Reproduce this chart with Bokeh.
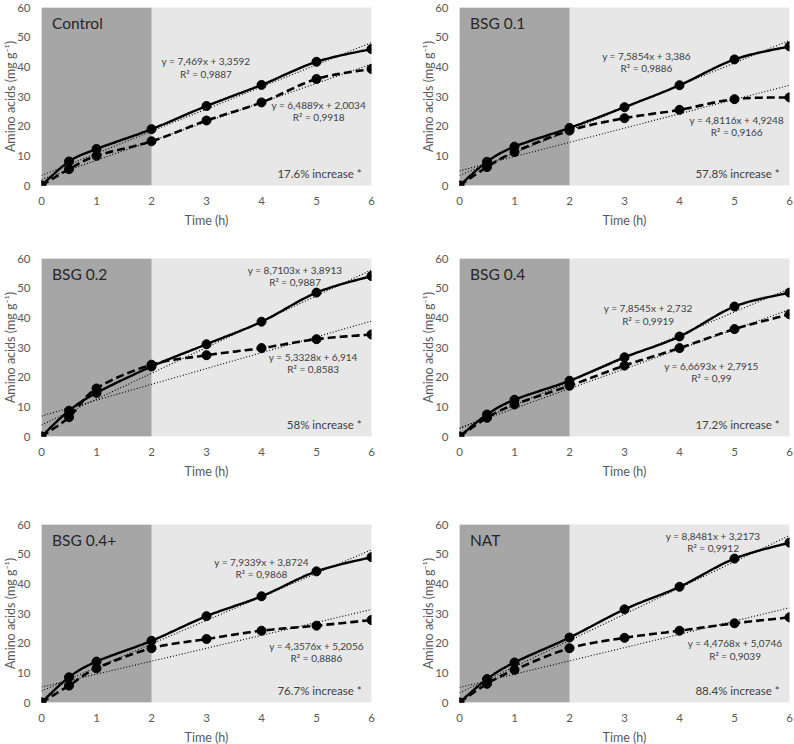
import numpy as np
from bokeh.plotting import figure
from bokeh.layouts import column, row
from bokeh.models import Label, Range1d, FixedTicker, BoxAnnotation
from bokeh.embed import file_html
from bokeh.resources import INLINE

# ---------------- data ----------------
time_h = [0, 0.5, 1, 2, 3, 4, 5, 6]
panel_names = ["Control", "BSG 0.1", "BSG 0.2", "BSG 0.4", "BSG 0.4+", "NAT"]

solid_series = [
    [0, 8.1, 12.3, 19.0, 26.8, 33.9, 41.7, 46.0],
    [0, 8.0, 13.1, 19.4, 26.4, 33.8, 42.5, 46.9],
    [0, 8.7, 14.7, 23.6, 31.1, 38.7, 48.5, 54.1],
    [0, 7.4, 12.4, 18.8, 26.7, 33.7, 43.8, 48.5],
    [0, 8.5, 13.8, 20.8, 29.1, 35.8, 44.2, 49.0],
    [0, 7.9, 13.5, 21.9, 31.4, 39.0, 48.5, 53.9],
]
dashed_series = [
    [0, 5.5, 10.0, 14.9, 21.9, 28.0, 35.9, 39.3],
    [0, 6.2, 11.3, 18.5, 22.7, 25.5, 29.1, 29.7],
    [0, 6.5, 16.2, 24.2, 27.4, 29.8, 32.8, 34.4],
    [0, 6.3, 10.8, 17.1, 23.9, 29.8, 36.2, 41.2],
    [0, 5.7, 11.5, 18.3, 21.4, 24.2, 25.9, 27.8],
    [0, 6.3, 11.0, 18.3, 21.8, 24.2, 26.7, 28.7],
]
solid_eq = ["y = 7,469x + 3,3592", "y = 7,5854x + 3,386", "y = 8,7103x + 3,8913",
            "y = 7,8545x + 2,732", "y = 7,9339x + 3,8724", "y = 8,8481x + 3,2173"]
solid_r2 = ["R² = 0,9887", "R² = 0,9886", "R² = 0,9887", "R² = 0,9919", "R² = 0,9868", "R² = 0,9912"]
solid_slope = [7.469, 7.5854, 8.7103, 7.8545, 7.9339, 8.8481]
solid_intercept = [3.3592, 3.386, 3.8913, 2.732, 3.8724, 3.2173]
dashed_eq = ["y = 6,4889x + 2,0034", "y = 4,8116x + 4,9248", "y = 5,3328x + 6,914",
             "y = 6,6693x + 2,7915", "y = 4,3576x + 5,2056", "y = 4,4768x + 5,0746"]
dashed_r2 = ["R² = 0,9918", "R² = 0,9166", "R² = 0,8583", "R² = 0,99", "R² = 0,8886", "R² = 0,9039"]
dashed_slope = [6.4889, 4.8116, 5.3328, 6.6693, 4.3576, 4.4768]
dashed_intercept = [2.0034, 4.9248, 6.914, 2.7915, 5.2056, 5.0746]
increase_labels = ["17.6% increase *", "57.8% increase *", "58% increase *",
                   "17.2% increase *", "76.7% increase *", "88.4% increase *"]
first_phase = [0, 2]
x_ticks = [0, 1, 2, 3, 4, 5, 6]
y_ticks = [0, 10, 20, 30, 40, 50, 60]

# ---------------- layout / style ----------------
FONT = "Lato"
DARK = "#a6a6a6"
LIGHT = "#e7e7e7"

# label positions (data coords) per panel
eq1_pos = [(2.99, 41.8), (3.40, 43.7), (4.61, 56.2), (3.43, 43.2), (4.00, 47.5), (4.61, 56.2)]
eq2_pos = [(5.04, 27.3), (5.04, 22.1), (4.94, 26.8), (4.58, 23.7), (5.00, 19.2), (5.01, 19.9)]

row_borders = [(7, 55), (18, 54), (34, 42)]


def smooth(xs, ys, n=24):
    P = np.column_stack([xs, ys]).astype(float)
    m = len(P)
    out = []
    for i in range(m - 1):
        p0 = P[i - 1] if i > 0 else P[i]
        p1 = P[i]
        p2 = P[i + 1]
        p3 = P[i + 2] if i + 2 < m else P[i + 1]
        c1 = p1 + (p2 - p0) / 6.0
        c2 = p2 - (p3 - p1) / 6.0
        t = np.linspace(0, 1, n, endpoint=(i == m - 2))[:, None]
        seg = ((1 - t) ** 3) * p1 + 3 * ((1 - t) ** 2) * t * c1 + 3 * (1 - t) * t * t * c2 + (t ** 3) * p2
        out.append(seg)
    out = np.vstack(out)
    return out[:, 0], out[:, 1]


def make_panel(k):
    r = k // 2
    c = k % 2
    top, bottom = row_borders[r]
    if c == 0:
        bl, br = 41, 44
    else:
        bl, br = 44, 5
    p = figure(frame_width=330, frame_height=178,
               x_range=Range1d(0, 6), y_range=Range1d(0, 60),
               output_backend="svg", toolbar_location=None,
               min_border_left=bl, min_border_right=br,
               min_border_top=top, min_border_bottom=bottom)
    p.background_fill_color = LIGHT
    p.border_fill_color = "white"
    p.outline_line_color = None
    p.grid.visible = False

    p.add_layout(BoxAnnotation(left=first_phase[0], right=first_phase[1],
                               fill_color=DARK, fill_alpha=1.0, line_color=None,
                               level="underlay"))

    for ax in (p.xaxis[0], p.yaxis[0]):
        ax.axis_line_color = None
        ax.major_tick_line_color = None
        ax.minor_tick_line_color = None
        ax.major_tick_out = 0
        ax.major_tick_in = 0
        ax.minor_tick_out = 0
        ax.minor_tick_in = 0
        ax.major_label_text_font = FONT
        ax.major_label_text_font_size = "11.5px"
        ax.major_label_text_color = "#595959"
        ax.axis_label_text_font = FONT
        ax.axis_label_text_font_size = "12.5px"
        ax.axis_label_text_font_style = "normal"
        ax.axis_label_text_color = "#595959"
    p.xaxis.ticker = FixedTicker(ticks=x_ticks)
    p.yaxis.ticker = FixedTicker(ticks=y_ticks)
    p.xaxis.axis_label = "Time (h)"
    p.yaxis.axis_label = "Amino acids (mg g⁻¹)"
    p.xaxis.major_label_standoff = 11
    p.xaxis.axis_label_standoff = 5
    p.yaxis.major_label_standoff = 11
    p.yaxis.axis_label_standoff = -4

    # trend lines
    xt = np.array([0.0, 6.0])
    p.line(xt, solid_slope[k] * xt + solid_intercept[k], line_color="black",
           line_width=1.1, line_dash="1 2")
    p.line(xt, dashed_slope[k] * xt + dashed_intercept[k], line_color="black",
           line_width=1.1, line_dash="1 2")

    # data series
    sx, sy = smooth(time_h, solid_series[k])
    p.line(sx, sy, line_color="black", line_width=2.4)
    dx, dy = smooth(time_h, dashed_series[k])
    p.line(dx, dy, line_color="black", line_width=2.6, line_dash="8 4")
    p.scatter(time_h, solid_series[k], size=9, fill_color="black", line_color="black")
    p.scatter(time_h, dashed_series[k], size=9, fill_color="black", line_color="black")

    # texts
    p.add_layout(Label(x=0.19, y=54.8, text=panel_names[k], text_font=FONT,
                       text_font_size="15.5px", text_color="#262626",
                       text_align="left", text_baseline="middle"))
    for (ex, ey), eq, r2 in ((eq1_pos[k], solid_eq[k], solid_r2[k]),
                             (eq2_pos[k], dashed_eq[k], dashed_r2[k])):
        p.add_layout(Label(x=ex, y=ey, text=eq, text_font=FONT, text_font_size="10px",
                           text_color="#404040", text_align="center", text_baseline="middle"))
        p.add_layout(Label(x=ex, y=ey - 4.1, text=r2, text_font=FONT, text_font_size="10px",
                           text_color="#404040", text_align="center", text_baseline="middle"))
    p.add_layout(Label(x=5.82, y=3.9, text=increase_labels[k], text_font=FONT,
                       text_font_size="11.5px", text_color="#404040",
                       text_align="right", text_baseline="middle"))
    return p


panels = [make_panel(k) for k in range(6)]
layout = column(row(panels[0], panels[1]), row(panels[2], panels[3]), row(panels[4], panels[5]))

open("out.html", "w").write(file_html(layout, INLINE))
